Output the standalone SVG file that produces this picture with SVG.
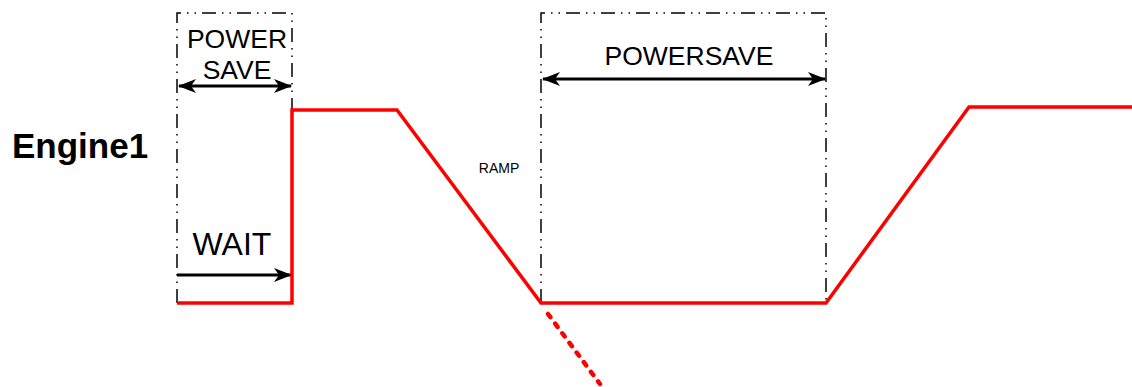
<svg xmlns="http://www.w3.org/2000/svg" width="1132" height="387" viewBox="0 0 1132 387">
<defs>
<style>
.box{fill:none;stroke:#000;stroke-width:1.5;stroke-dasharray:14 6 1.5 6 1.5 6}
.sig{fill:none;stroke:#f00;stroke-width:3.5;stroke-linejoin:miter}
.sigd{fill:none;stroke:#f00;stroke-width:4.5;stroke-dasharray:4 8;stroke-linecap:round}
.arr{fill:none;stroke:#000;stroke-width:3}
.t{font-family:"Liberation Sans",Arial,sans-serif;fill:#000}
</style>
<marker id="ah" viewBox="0 0 18 14" refX="17" refY="7" markerWidth="18" markerHeight="14" markerUnits="userSpaceOnUse" orient="auto-start-reverse">
<path d="M0,0 L18,7 L0,14 L5,7 Z" fill="#000"/>
</marker>
</defs>
<g id="label-engine"><text class="t" x="12" y="158" font-size="35" font-weight="bold">Engine1</text></g>
<g id="box-powersave1">
<path class="box" d="M177,303 V13 H292 V110"/>
<text class="t" x="237" y="48" font-size="26.5" text-anchor="middle">POWER</text>
<text class="t" x="237" y="79" font-size="26.5" text-anchor="middle">SAVE</text>
</g>
<g id="label-wait"><text class="t" x="232" y="255" font-size="32" text-anchor="middle">WAIT</text></g>
<g id="label-ramp"><text class="t" x="499" y="173" font-size="14" text-anchor="middle">RAMP</text></g>
<g id="box-powersave2">
<path class="box" d="M541,303 V13 H826 V303"/>
<text class="t" x="689" y="65" font-size="26.5" text-anchor="middle">POWERSAVE</text>
</g>
<g id="connectors">
<line class="arr" x1="179" y1="86" x2="291" y2="86" marker-start="url(#ah)" marker-end="url(#ah)"/>
<line class="arr" x1="177" y1="275" x2="291" y2="275" marker-end="url(#ah)"/>
<line class="arr" x1="543" y1="79" x2="825" y2="79" marker-start="url(#ah)" marker-end="url(#ah)"/>
</g>
<g id="signal">
<polyline class="sig" points="177,303 292,303 292,110 397,110 541,303 826,303 969,107 1132,107"/>
<line class="sigd" x1="548" y1="314" x2="600" y2="384"/>
</g>
</svg>
